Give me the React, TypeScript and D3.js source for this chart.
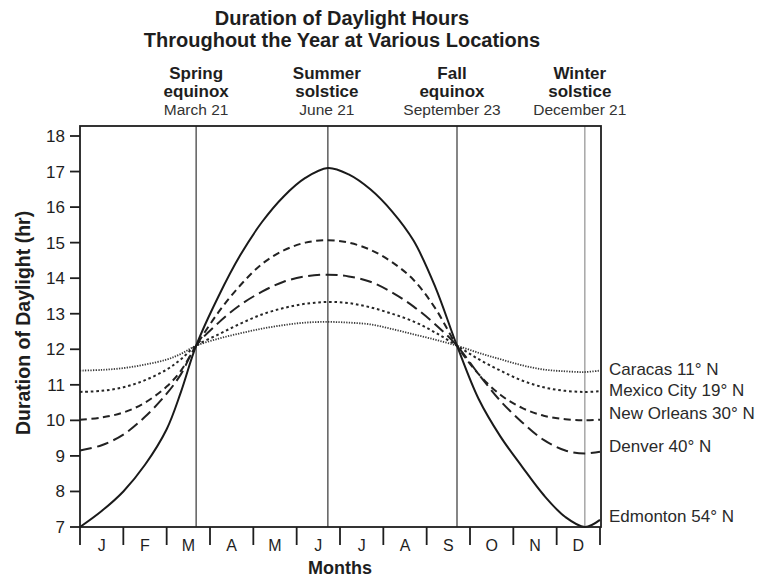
import React from "react";
import * as d3 from "d3";

// ---------- data ----------
const titleLines = ["Duration of Daylight Hours", "Throughout the Year at Various Locations"];
const monthLabels = ["J", "F", "M", "A", "M", "J", "J", "A", "S", "O", "N", "D"];
const hourTicks = [7, 8, 9, 10, 11, 12, 13, 14, 15, 16, 17, 18];
const eventTitles = [["Spring", "equinox"], ["Summer", "solstice"], ["Fall", "equinox"], ["Winter", "solstice"]];
const eventDates = ["March 21", "June 21", "September 23", "December 21"];
const eventMonthPos = [2.68, 5.72, 8.7, 11.65];

// sample positions in months from Jan 1 (0) to Dec 31 (12)
const samplePos = [0, 0.5, 1, 1.5, 2, 2.33, 2.68, 3.2, 3.7, 4.2, 4.7, 5.2, 5.72, 6.2, 6.7, 7.2, 7.7, 8.2, 8.7, 9.2, 9.7, 10.2, 10.7, 11.2, 11.65, 12];
const caracas = [11.4, 11.42, 11.47, 11.57, 11.71, 11.87, 12.1, 12.3, 12.45, 12.58, 12.68, 12.75, 12.77, 12.75, 12.7, 12.57, 12.42, 12.27, 12.1, 11.9, 11.72, 11.55, 11.43, 11.38, 11.36, 11.4];
const mexicoCity = [10.8, 10.83, 10.93, 11.13, 11.43, 11.72, 12.1, 12.42, 12.72, 12.98, 13.16, 13.28, 13.33, 13.3, 13.18, 13.0, 12.78, 12.47, 12.1, 11.72, 11.4, 11.12, 10.93, 10.83, 10.8, 10.82];
const newOrleans = [10.02, 10.08, 10.22, 10.5, 10.95, 11.4, 12.1, 13.05, 13.8, 14.4, 14.78, 15.0, 15.07, 15.0, 14.8, 14.45, 13.95, 13.15, 12.1, 11.3, 10.72, 10.35, 10.13, 10.03, 10.0, 10.02];
const denver = [9.15, 9.3, 9.6, 10.1, 10.75, 11.3, 12.1, 12.75, 13.25, 13.62, 13.9, 14.05, 14.1, 14.05, 13.9, 13.6, 13.2, 12.7, 12.1, 11.3, 10.55, 9.95, 9.45, 9.15, 9.07, 9.12];
const edmonton = [7.0, 7.45, 8.0, 8.75, 9.75, 10.8, 12.1, 13.5, 14.65, 15.58, 16.3, 16.82, 17.1, 16.92, 16.5, 15.88, 15.05, 13.75, 12.1, 10.6, 9.55, 8.7, 7.9, 7.28, 7.0, 7.2];
const seriesNames = ["Caracas 11° N", "Mexico City 19° N", "New Orleans 30° N", "Denver 40° N", "Edmonton 54° N"];
const seriesValues = [caracas, mexicoCity, newOrleans, denver, edmonton];

// ---------- styles ----------
const W = 768;
const H = 578;
const FONT = "'Liberation Sans', Arial, Helvetica, sans-serif";
const INK = "#1e1e1e";
const seriesStyles = [
  { dash: "1.3,1.3", width: 1.8, color: "#3a3a3a", labelDy: -2 },
  { dash: "2.6,2.8", width: 2, color: "#262626", labelDy: -1 },
  { dash: "7,4.5", width: 2, color: "#222", labelDy: -7 },
  { dash: "12,5.5", width: 2, color: "#222", labelDy: -6 },
  { dash: "", width: 2, color: "#1a1a1a", labelDy: -4 },
];
const eventLineStyles = [
  { color: "#444", width: 1.3 },
  { color: "#444", width: 1.3 },
  { color: "#444", width: 1.3 },
  { color: "#999", width: 1.3 },
];
const eventLabelDx = [0, -1, -5, -5];

export default function App() {
  const x = d3.scaleLinear().domain([0, 12]).range([80, 600]);
  const y = d3.scaleLinear().domain([7, 18]).range([527, 136]);
  const frameTop = 126;
  const frameRight = 601;
  const axisY = y(7);

  const line = d3
    .line<number>()
    .x((_, i) => x(samplePos[i]))
    .y((d) => y(d))
    .curve(d3.curveCatmullRom.alpha(0.5));

  const months = d3.range(0, 13);

  return (
    <svg
      width={W}
      height={H}
      viewBox={`0 0 ${W} ${H}`}
      style={{ position: "absolute", left: 0, top: 0, background: "#fff" }}
      fontFamily={FONT}
    >
      <rect x={0} y={0} width={W} height={H} fill="#fff" />

      {/* title */}
      {titleLines.map((t, i) => (
        <text key={t} x={342} y={25 + i * 22} textAnchor="middle" fontSize={20} fontWeight="bold" fill={INK}>
          {t}
        </text>
      ))}

      {/* event labels */}
      {eventTitles.map((lines, i) => {
        const cx = x(eventMonthPos[i]) + eventLabelDx[i];
        return (
          <g key={i}>
            <text x={cx} y={79} textAnchor="middle" fontSize={17} fontWeight="bold" fill={INK}>
              {lines[0]}
            </text>
            <text x={cx} y={97} textAnchor="middle" fontSize={17} fontWeight="bold" fill={INK}>
              {lines[1]}
            </text>
            <text x={cx} y={115} textAnchor="middle" fontSize={15.5} fill="#333">
              {eventDates[i]}
            </text>
          </g>
        );
      })}

      {/* event vertical lines */}
      {eventMonthPos.map((p, i) => (
        <line
          key={i}
          x1={x(p)}
          x2={x(p)}
          y1={frameTop}
          y2={axisY}
          stroke={eventLineStyles[i].color}
          strokeWidth={eventLineStyles[i].width}
        />
      ))}

      {/* series */}
      {seriesValues.map((vals, i) => (
        <path
          key={seriesNames[i]}
          d={line(vals) || ""}
          fill="none"
          stroke={seriesStyles[i].color}
          strokeWidth={seriesStyles[i].width}
          strokeDasharray={seriesStyles[i].dash || undefined}
        />
      ))}

      {/* frame */}
      <rect
        x={x(0)}
        y={frameTop}
        width={frameRight - x(0)}
        height={axisY - frameTop}
        fill="none"
        stroke={INK}
        strokeWidth={1.8}
      />

      {/* y ticks */}
      {hourTicks.map((h) => (
        <g key={h}>
          <line x1={70} x2={x(0)} y1={y(h)} y2={y(h)} stroke={INK} strokeWidth={1.8} />
          <text x={65} y={y(h) + 6} textAnchor="end" fontSize={17} fill={INK}>
            {h}
          </text>
        </g>
      ))}

      {/* month ticks */}
      {months.map((m) => (
        <line key={m} x1={x(m)} x2={x(m)} y1={axisY} y2={545} stroke={INK} strokeWidth={1.8} />
      ))}
      {monthLabels.map((m, i) => (
        <text key={i} x={x(i + 0.5)} y={551} textAnchor="middle" fontSize={16} fill={INK}>
          {m}
        </text>
      ))}

      {/* axis titles */}
      <text x={340} y={574} textAnchor="middle" fontSize={18} fontWeight="bold" fill={INK}>
        Months
      </text>
      <text
        transform={`translate(30, 323) rotate(-90)`}
        textAnchor="middle"
        fontSize={19.5}
        fontWeight="bold"
        fill={INK}
      >
        Duration of Daylight (hr)
      </text>

      {/* series labels */}
      {seriesNames.map((n, i) => {
        const vals = seriesValues[i];
        return (
          <text
            key={n}
            x={609}
            y={y(vals[vals.length - 1]) + seriesStyles[i].labelDy + 6}
            fontSize={17}
            fill="#2a2a2a"
          >
            {n}
          </text>
        );
      })}
    </svg>
  );
}
